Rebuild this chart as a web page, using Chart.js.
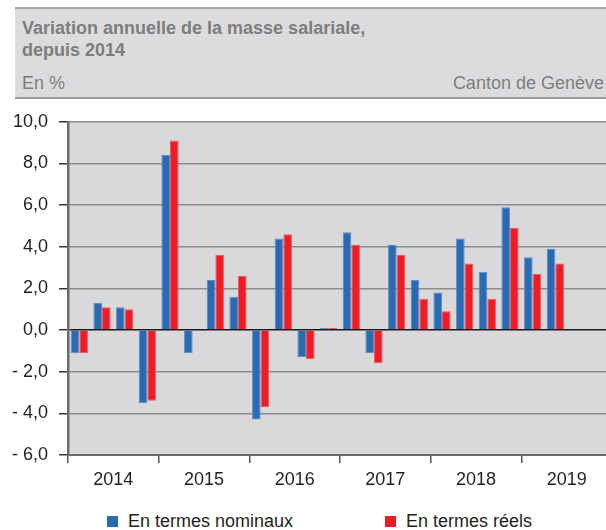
<!DOCTYPE html>
<html>
<head>
<meta charset="utf-8">
<script src="https://cdn.jsdelivr.net/npm/chart.js@4/dist/chart.umd.min.js"></script>
<style>
  html, body { margin:0; padding:0; width:606px; height:530px; overflow:hidden; background:#fff; font-family:"Liberation Sans", Arial, sans-serif; }
  #hdr { position:absolute; left:15px; top:7px; width:600px; height:88px; background:#dcdcde; border-top:2px solid #a8a8a8; border-bottom:2px solid #9a9a9a; }
  .t { position:absolute; color:#7d7d7d; font-size:18px; white-space:nowrap; line-height:20px; }
  .b { font-weight:bold; }
  #cv { position:absolute; left:0; top:100px; }
  .lg { position:absolute; top:510px; font-size:18px; color:#231f20; line-height:22px; white-space:nowrap; }
  .sq { display:inline-block; width:11px; height:11px; margin-right:10px; vertical-align:0px; }
</style>
</head>
<body>
<div id="hdr"></div>
<div class="t b" style="left:22px; top:18px;">Variation annuelle de la masse salariale,</div>
<div class="t b" style="left:22px; top:40px;">depuis 2014</div>
<div class="t" style="left:22px; top:73px;">En %</div>
<div class="t" style="right:2px; top:73px;">Canton de Genève</div>
<canvas id="cv" width="620" height="400"></canvas>
<div class="lg" style="left:107px;"><span class="sq" style="background:#2a69b4"></span>En termes nominaux</div>
<div class="lg" style="left:385px;"><span class="sq" style="background:#ee1c25"></span>En termes réels</div>
<script>
const quarters = ['T1 2014','T2 2014','T3 2014','T4 2014','T1 2015','T2 2015','T3 2015','T4 2015',
                  'T1 2016','T2 2016','T3 2016','T4 2016','T1 2017','T2 2017','T3 2017','T4 2017',
                  'T1 2018','T2 2018','T3 2018','T4 2018','T1 2019','T2 2019','T3 2019','T4 2019'];
const years = ['2014','2015','2016','2017','2018','2019'];
const nominal = [-1.1, 1.3, 1.1, -3.5, 8.4, -1.1, 2.4, 1.6, -4.3, 4.4, -1.3, 0.1, 4.7, -1.1, 4.1, 2.4, 1.8, 4.4, 2.8, 5.9, 3.5, 3.9, null, null];
const real    = [-1.1, 1.1, 1.0, -3.4, 9.1, 0.0, 3.6, 2.6, -3.7, 4.6, -1.4, 0.1, 4.1, -1.6, 3.6, 1.5, 0.9, 3.2, 1.5, 4.9, 2.7, 3.2, null, null];
const yTicks = { min: -6, max: 10, step: 2 };

const plotBg = {
  id: 'plotBg',
  beforeDraw(chart) {
    const a = chart.chartArea, c = chart.ctx;
    c.save(); c.fillStyle = '#d9d9db'; c.fillRect(a.left, a.top, a.right - a.left, a.bottom - a.top); c.restore();
  }
};

const font = { family: '"Liberation Sans", Arial, sans-serif', size: 18 };

new Chart(document.getElementById('cv'), {
  type: 'bar',
  data: {
    labels: quarters,
    datasets: [
      { label: 'En termes nominaux', data: nominal, backgroundColor: '#2a69b4', borderColor: '#5d8cc6', borderWidth: 1, borderSkipped: 'start', categoryPercentage: 0.76, barPercentage: 1.0 },
      { label: 'En termes réels', data: real, backgroundColor: '#ee1c25', borderColor: '#f2565d', borderWidth: 1, borderSkipped: 'start', categoryPercentage: 0.76, barPercentage: 1.0 }
    ]
  },
  options: {
    responsive: false,
    animation: false,
    devicePixelRatio: 1,
    layout: { padding: { top: 21, right: 8, left: 0, bottom: 0 } },
    plugins: { legend: { display: false }, tooltip: { enabled: false } },
    scales: {
      x: { type: 'category', offset: true, display: false },
      x2: {
        type: 'category', labels: years, position: 'bottom', offset: true,
        grid: { offset: true, drawOnChartArea: false, drawTicks: true, tickLength: 8, color: '#555', lineWidth: 1.5 },
        border: { display: true, color: '#6b6b6b', width: 2 },
        ticks: { font: font, color: '#231f20', padding: 6, maxRotation: 0, autoSkip: false },
        afterFit(s) { s.height = 45; }
      },
      y: {
        min: yTicks.min, max: yTicks.max,
        ticks: {
          stepSize: yTicks.step, font: font, color: '#231f20', padding: 11,
          callback: v => (v < 0 ? '- ' : '') + Math.abs(v).toFixed(1).replace('.', ',')
        },
        grid: {
          color: c => (c.tick && c.tick.value === 0) ? '#1a1a1a' : '#8c8c8c',
          lineWidth: 1.5, tickColor: '#333', tickLength: 9, drawTicks: true
        },
        border: { display: true, color: '#6b6b6b', width: 2.5 },
        afterFit(s) { s.width = 68; }
      }
    }
  },
  plugins: [plotBg]
});
</script>
</body>
</html>
